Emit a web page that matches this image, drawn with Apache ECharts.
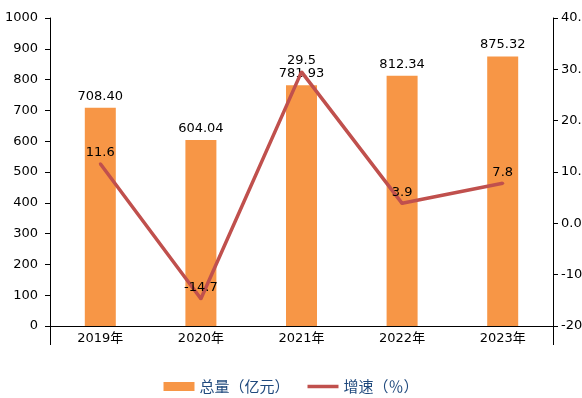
<!DOCTYPE html>
<html lang="zh">
<head>
    <meta charset="UTF-8">
    <title>总量与增速</title>
    <style>
        html, body { margin: 0; padding: 0; background: #fff; }
        .container { width: 582px; height: 398px; }
    </style>
    <script src="https://cdn.jsdelivr.net/npm/echarts@6/dist/echarts.min.js"></script>
</head>
<body>
    <div class="container"></div>
    <script>
        // 数据
        var years = ['2019年', '2020年', '2021年', '2022年', '2023年'];
        var totalValues = [708.40, 604.04, 781.93, 812.34, 875.32];
        var growthValues = [11.6, -14.7, 29.5, 3.9, 7.8];

        var numFont = 'DejaVu Sans, "Noto Sans CJK SC", sans-serif';
        var cjkFont = '"Noto Sans CJK SC", sans-serif';

        const main = document.getElementsByClassName('container')[0];
        const myChart = echarts.init(main);
        myChart.setOption({
            animation: false,
            backgroundColor: '#ffffff',
            grid: { left: 50, right: 29, top: 18, bottom: 72, outerBoundsMode: 'none', containLabel: false },
            legend: {
                left: 'center',
                top: 374,
                itemGap: 18,
                itemWidth: 31,
                itemHeight: 9,
                textStyle: { color: '#1F497D', fontSize: 15, fontFamily: cjkFont },
                data: [
                    { name: '总量（亿元）', icon: 'rect' },
                    { name: '增速（％）', icon: 'path://M0 0H31V3.5H0Z' }
                ]
            },
            xAxis: {
                type: 'category',
                data: years,
                boundaryGap: true,
                axisLine: { lineStyle: { color: '#000', width: 1 } },
                // 只在两端画刻度（Excel 风格）
                axisTick: {
                    show: true,
                    length: 19,
                    interval: function (index) { return index === 0; },
                    lineStyle: { color: '#000' }
                },
                axisLabel: { color: '#000', fontSize: 13, fontFamily: numFont, margin: 6 }
            },
            yAxis: [
                {
                    type: 'value',
                    min: 0,
                    max: 1000,
                    interval: 100,
                    splitLine: { show: false },
                    axisLine: { show: true, lineStyle: { color: '#000' } },
                    axisTick: { show: true, length: 5, lineStyle: { color: '#000' } },
                    axisLabel: {
                        color: '#000', fontSize: 13, fontFamily: numFont, margin: 12,
                        formatter: function (v) { return String(v); }
                    }
                },
                {
                    type: 'value',
                    min: -20,
                    max: 40,
                    interval: 10,
                    splitLine: { show: false },
                    axisLine: { show: true, lineStyle: { color: '#000' } },
                    axisTick: { show: true, length: 5, lineStyle: { color: '#000' } },
                    axisLabel: {
                        color: '#000', fontSize: 13, fontFamily: numFont, margin: 8,
                        formatter: function (v) { return v.toFixed(1); }
                    }
                }
            ],
            series: [
                {
                    name: '总量（亿元）',
                    type: 'bar',
                    data: totalValues,
                    barWidth: 31,
                    itemStyle: { color: '#F79646' },
                    label: {
                        show: true,
                        position: 'top',
                        distance: 5,
                        color: '#000',
                        fontSize: 13,
                        fontFamily: numFont,
                        formatter: function (p) { return p.value.toFixed(2); }
                    }
                },
                {
                    name: '增速（％）',
                    type: 'line',
                    yAxisIndex: 1,
                    data: growthValues,
                    symbol: 'circle',
                    symbolSize: 3,
                    itemStyle: { color: '#C0504D' },
                    lineStyle: { color: '#C0504D', width: 3.5 },
                    label: {
                        show: true,
                        position: 'top',
                        distance: 3,
                        color: '#000',
                        fontSize: 13,
                        fontFamily: numFont
                    }
                }
            ]
        });
    </script>
</body>
</html>
